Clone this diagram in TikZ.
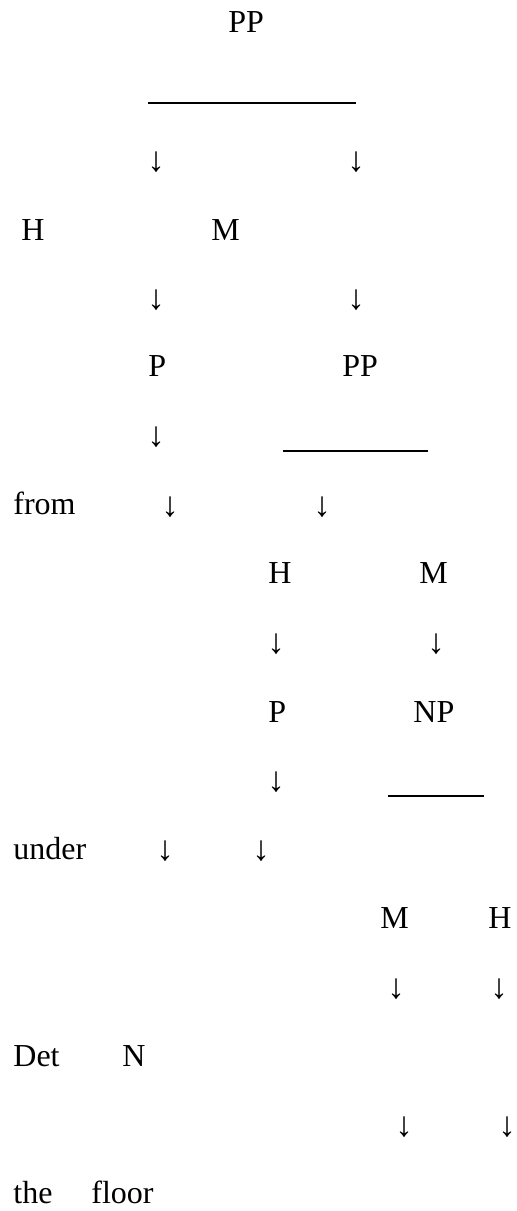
\documentclass[tikz,border=0pt]{standalone}
\usepackage{fontspec}
\setmainfont{Liberation Serif}

\begin{document}
\begin{tikzpicture}[x=0.5pt, y=-0.5pt,
    word/.style={anchor=base west, inner sep=0pt, font=\fontsize{16}{19}\selectfont},
    down/.style={anchor=center, inner sep=0pt, font=\fontsize{17.5}{21}\selectfont},
    bar/.style={line width=0.6pt}
]
    \useasboundingbox (0,0) rectangle (517,1211);
    % Top PP
    \node[word] (pp_top) at (228,32) {PP};
    \coordinate (bar1_l) at (148,103); \coordinate (bar1_r) at (356,103);
    \draw[bar] (bar1_l) -- (bar1_r);
    \node[down] (dn1a) at (156,162) {↓};
    \node[down] (dn1b) at (356,162) {↓};
    \node[word] (h_one) at (21,240) {H};
    \node[word] (m_one) at (211,240) {M};
    \node[down] (dn2a) at (156,300) {↓};
    \node[down] (dn2b) at (356,300) {↓};
    \node[word] (p_one) at (148,376) {P};
    \node[word] (pp_two) at (342,376) {PP};
    \node[down] (dn3a) at (156,437) {↓};
    \coordinate (bar2_l) at (283,451); \coordinate (bar2_r) at (428,451);
    \draw[bar] (bar2_l) -- (bar2_r);
    \node[word] (w_from) at (13,514) {from};
    \node[down] (dn4a) at (170,507) {↓};
    \node[down] (dn4b) at (322,507) {↓};
    % Inner PP
    \node[word] (h_two) at (268,583) {H};
    \node[word] (m_two) at (419,583) {M};
    \node[down] (dn5a) at (276,644) {↓};
    \node[down] (dn5b) at (436,644) {↓};
    \node[word] (p_two) at (268,722) {P};
    \node[word] (np_one) at (413,722) {NP};
    \node[down] (dn6a) at (276,782) {↓};
    \coordinate (bar3_l) at (388,796); \coordinate (bar3_r) at (484,796);
    \draw[bar] (bar3_l) -- (bar3_r);
    \node[word] (w_under) at (13,859) {under};
    \node[down] (dn7a) at (165,851) {↓};
    \node[down] (dn7b) at (261,851) {↓};
    % NP
    \node[word] (m_three) at (380,928) {M};
    \node[word] (h_three) at (488,928) {H};
    \node[down] (dn8a) at (396,989) {↓};
    \node[down] (dn8b) at (499,989) {↓};
    \node[word] (w_det) at (13,1066) {Det};
    \node[word] (w_n) at (122,1066) {N};
    \node[down] (dn9a) at (404,1127) {↓};
    \node[down] (dn9b) at (507,1127) {↓};
    \node[word] (w_the) at (13,1203) {the};
    \node[word] (w_floor) at (91,1203) {floor};
\end{tikzpicture}
\end{document}
